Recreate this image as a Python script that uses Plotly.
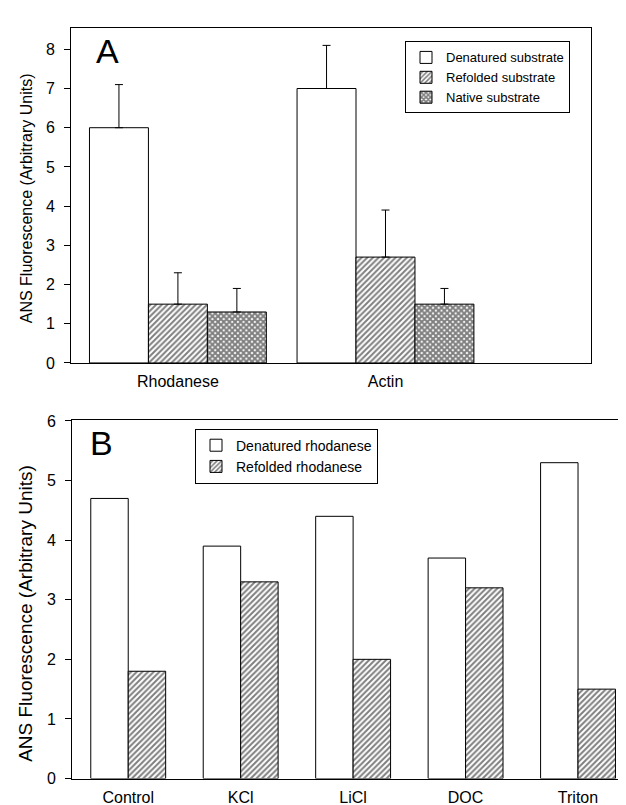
import plotly.graph_objects as go

# Panel A data
cats_a = ["Rhodanese", "Actin"]
denatured_a = [6.0, 7.0]
denatured_a_err = [1.1, 1.1]
refolded_a = [1.5, 2.7]
refolded_a_err = [0.8, 1.2]
native_a = [1.3, 1.5]
native_a_err = [0.6, 0.4]

# Panel B data
cats_b = ["Control", "KCl", "LiCl", "DOC", "Triton"]
denatured_b = [4.7, 3.9, 4.4, 3.7, 5.3]
refolded_b = [1.8, 3.3, 2.0, 3.2, 1.5]

yticks_a = [0, 1, 2, 3, 4, 5, 6, 7, 8]
yticks_b = [0, 1, 2, 3, 4, 5, 6]

FONT = "Arial, Liberation Sans, sans-serif"
W, H = 626, 805

def px_x(p):
    return min(1.0, max(0.0, p / W))

def px_y(p):
    return min(1.0, max(0.0, 1 - p / H))

fig = go.Figure()

wa = 0.284
line = dict(color="black", width=1)
hatch = dict(shape="/", fgcolor="black", bgcolor="white", size=4, solidity=0.5)
cross = dict(shape="x", fgcolor="black", bgcolor="white", size=4, solidity=0.75)

def err(arr):
    return dict(type="data", array=arr, arrayminus=[0] * len(arr), symmetric=False,
                color="black", thickness=1, width=4)

fig.add_trace(go.Bar(x=cats_a, y=denatured_a, name="Denatured substrate",
                     width=wa, offset=-1.5 * wa, marker=dict(color="white", line=line),
                     error_y=err(denatured_a_err), xaxis="x", yaxis="y", legend="legend"))
fig.add_trace(go.Bar(x=cats_a, y=refolded_a, name="Refolded substrate",
                     width=wa, offset=-0.5 * wa,
                     marker=dict(color="white", line=line, pattern=hatch),
                     error_y=err(refolded_a_err), xaxis="x", yaxis="y", legend="legend"))
fig.add_trace(go.Bar(x=cats_a, y=native_a, name="Native substrate",
                     width=wa, offset=0.5 * wa,
                     marker=dict(color="white", line=line, pattern=cross),
                     error_y=err(native_a_err), xaxis="x", yaxis="y", legend="legend"))

wb = 0.333
fig.add_trace(go.Bar(x=cats_b, y=denatured_b, name="Denatured rhodanese",
                     width=wb, offset=-wb, marker=dict(color="white", line=line),
                     xaxis="x2", yaxis="y2", legend="legend2"))
fig.add_trace(go.Bar(x=cats_b, y=refolded_b, name="Refolded rhodanese",
                     width=wb, offset=0,
                     marker=dict(color="white", line=line, pattern=hatch),
                     xaxis="x2", yaxis="y2", legend="legend2"))

axis_common = dict(showline=True, linecolor="black", linewidth=1, mirror=True,
                   showgrid=False, zeroline=False,
                   tickfont=dict(family=FONT, size=16, color="black"))

fig.update_layout(
    width=W, height=H,
    margin=dict(l=0, r=0, t=0, b=0),
    plot_bgcolor="white", paper_bgcolor="white",
    barmode="overlay",
    font=dict(family=FONT, color="black"),
    xaxis=dict(domain=[px_x(63), px_x(583)], range=[-0.515, 1.99], anchor="y",
               ticks="", ticklabelstandoff=4, **axis_common),
    yaxis=dict(domain=[px_y(355), px_y(13)], range=[0, 8.55], anchor="x",
               tickvals=yticks_a, ticks="outside", ticklen=6, tickcolor="black",
               ticklabelstandoff=6, **axis_common),
    xaxis2=dict(domain=[px_x(64), px_x(624)], range=[-0.5, 4.48], anchor="y2",
                ticks="", ticklabelstandoff=4, **axis_common),
    yaxis2=dict(domain=[px_y(779), px_y(413)], range=[0, 6.02], anchor="x2",
                tickvals=yticks_b, ticks="outside", ticklen=6, tickcolor="black",
                ticklabelstandoff=6, **axis_common),
    legend=dict(x=px_x(397), y=px_y(27), xanchor="left", yanchor="top",
                bordercolor="black", borderwidth=1, bgcolor="white",
                font=dict(family=FONT, size=13, color="black"), tracegroupgap=0),
    legend2=dict(x=px_x(187), y=px_y(422), xanchor="left", yanchor="top",
                 bordercolor="black", borderwidth=1, bgcolor="white",
                 font=dict(family=FONT, size=14, color="black"), tracegroupgap=0),
    annotations=[
        dict(text="A", x=px_x(86), y=px_y(37), xref="paper", yref="paper",
             xanchor="left", yanchor="middle", showarrow=False,
             font=dict(family=FONT, size=34, color="black")),
        dict(text="B", x=px_x(80), y=px_y(437), xref="paper", yref="paper",
             xanchor="left", yanchor="middle", showarrow=False,
             font=dict(family=FONT, size=34, color="black")),
        dict(text="ANS Fluorescence (Arbitrary Units)", x=px_x(18), y=px_y(187),
             xref="paper", yref="paper", textangle=-90, showarrow=False,
             xanchor="center", yanchor="middle",
             font=dict(family=FONT, size=16, color="black")),
        dict(text="ANS Fluorescence (Arbitrary Units)", x=px_x(18), y=px_y(611),
             xref="paper", yref="paper", textangle=-90, showarrow=False,
             xanchor="center", yanchor="middle",
             font=dict(family=FONT, size=19, color="black")),
    ],
)

fig.write_html("out.html")
